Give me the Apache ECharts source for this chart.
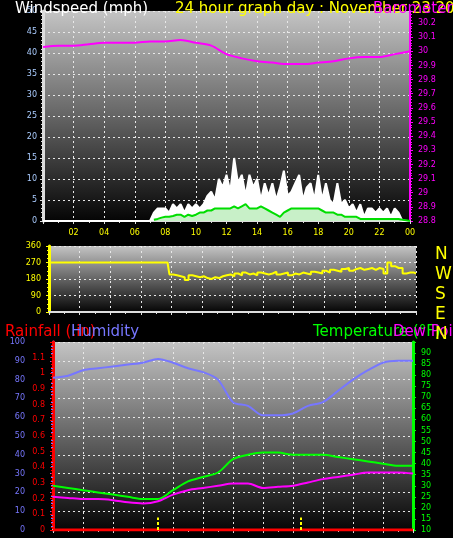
<!DOCTYPE html>
<html><head><meta charset="utf-8">
<script src="https://cdn.jsdelivr.net/npm/echarts@6/dist/echarts.min.js"></script>
<style>html,body{margin:0;padding:0;background:#000}#c{width:453px;height:538px}</style>
</head><body><div id="c"></div>
<script>
// quarter-hour series (97 points, 00:00 .. 24:00)
const gust = [0,0,0,0,0,0,0,0,0,0,0,0,0,0,0,0,0,0,0,0,0,0,0,0,0,0,0,0,0,2,3,3,
  3,2,4,3,4,2,4,3,4,3,4,6,7,5,10,8,11,7,15,9,11,6,11,8,10,5,9,6,9,5,8,12,
  6,7,9,11,5,8,9,5,11,5,9,5,4,9,4,5,3,4,2,4,1,3,3,2,3,2,3,1,3,2,0,0,0];
const avgWind = [null,null,null,null,null,null,null,null,null,null,null,null,null,null,null,null,null,null,null,null,null,null,null,null,null,null,null,null,null,0.3,0.5,0.8,
  1,1,1.2,1.5,1.5,1,1.5,1.2,1.5,2,2,2.5,2.5,3,3,3,3,3,3.5,3,3.5,4,3,3,3,3.5,3,2.5,2,1.5,1,2,
  2.5,3,3,3,3,3,3,3,3,2.5,2,2,2,1.5,1.5,1,1,1,1,0.5,0.5,0.5,0.5,0.5,0.5,0.5,0.5,0.5,0.5,0.5,0.3,0.2,0];
const windDir = [270,270,270,270,270,270,270,270,270,270,270,270,270,270,270,270,270,270,270,270,270,270,270,270,270,270,270,270,270,270,270,270,
  205,200,195,190,175,200,195,190,195,185,180,190,185,195,200,205,195,210,200,215,205,210,200,215,210,205,210,220,205,210,215,200,
  210,205,215,210,205,220,215,210,225,215,230,225,220,235,240,225,235,240,230,235,240,230,240,235,210,270,250,240,240,210,215,215,210];
// hourly series (25 points)
const baro = [30.03,30.04,30.04,30.05,30.06,30.06,30.06,30.07,30.07,30.08,30.06,30.04,29.98,29.95,29.93,29.92,29.91,29.91,29.92,29.93,29.95,29.96,29.96,29.98,30.0];
const humidity = [81,82,85,86,87,88,89,91,89,86,84,80,68,66,61,61,62,66,68,74,80,85,89,90,90];
const temperature = [30,29,28,27,26,25,24,24,28,32,34,36,42,44,45,45,44,44,44,43,42,41,40,39,39];
const dewPoint = [25,24.5,24,24,23.5,22.5,22,23,26,28,29,30,31,31,29,29.5,30,31.5,33,34,35,36,36,36,35.5];
const rain = [0,0,0,0,0,0,0,0,0,0,0,0,0,0,0,0,0,0,0,0,0,0,0,0,0];
const hourTicks = ['02','04','06','08','10','12','14','16','18','20','22','00'];

const q = a => a.map((v,i)=>[i/4,v]);
const h = a => a.map((v,i)=>[i,v]);
const bg = {type:'linear',x:0,y:0,x2:0,y2:1,colorStops:[{offset:0,color:'#c4c4c4'},{offset:1,color:'#050505'}]};
const dots = {show:true,lineStyle:{color:'#e8e8e8',type:[2,3],width:1}};
const fnt = 'DejaVu Sans';
function xAx(i, labels){
  return {type:'value',gridIndex:i,min:0,max:24,interval:2,
    axisLine:{show:true,lineStyle:{color:'#ddd',width:2}},
    axisTick:{show:true,length:3,lineStyle:{color:'#ddd'}},
    minorTick:{show:true,splitNumber:2,length:2,lineStyle:{color:'#ddd'}},
    splitLine:dots,
    axisLabel:labels?{show:true,color:'#ffff00',fontSize:8,fontFamily:fnt,
      formatter:v=>v===0?'':hourTicks[v/2-1]}:{show:false}};
}
function yAx(o){
  return Object.assign({type:'value',splitLine:{show:false},
    axisLine:{show:true,lineStyle:{width:3}},
    axisTick:{show:true,length:3,inside:false},
    minorTick:{show:true,splitNumber:5,length:2},
    axisLabel:{fontSize:8,fontFamily:fnt,margin:5}},o);
}
const chart = echarts.init(document.getElementById('c'));
chart.setOption({
  backgroundColor:'#000',animation:false,
  title:[
    {text:'Windspeed (mph)',left:10,top:-3,textStyle:{color:'#fff',fontSize:15,fontWeight:'normal',fontFamily:fnt}},
    {text:'24 hour graph day : November 23 2025',left:170,top:-3,textStyle:{color:'#ffff00',fontSize:15,fontWeight:'normal',fontFamily:fnt}},
    {text:'Barometer',left:368,top:-3,textStyle:{color:'#ff00ff',fontSize:15,fontWeight:'normal',fontFamily:fnt}},
    {text:'Rainfall (.in)',left:0,top:320,textStyle:{color:'#ff0000',fontSize:15,fontWeight:'normal',fontFamily:fnt}},
    {text:'Humidity',left:66,top:320,textStyle:{color:'#7777ff',fontSize:15,fontWeight:'normal',fontFamily:fnt}},
    {text:'Temperature (°F)',left:308,top:320,textStyle:{color:'#00ff00',fontSize:15,fontWeight:'normal',fontFamily:fnt}},
    {text:'Dew Point',left:388,top:320,textStyle:{color:'#ff00ff',fontSize:15,fontWeight:'normal',fontFamily:fnt}},
    {text:'N\nW\nS\nE\nN',left:430,top:240,textStyle:{color:'#ffff00',fontSize:17,lineHeight:20,fontWeight:'normal',fontFamily:fnt}}
  ],
  grid:[
    {left:43,right:43,top:11,height:210,show:true,backgroundColor:bg,borderWidth:0},
    {left:49,right:37,top:246,height:66,show:true,backgroundColor:bg,borderWidth:0},
    {left:53,right:40,top:342,height:188,show:true,backgroundColor:bg,borderWidth:0}
  ],
  xAxis:[xAx(0,true),xAx(1,false),xAx(2,false)],
  yAxis:[
    yAx({gridIndex:0,min:0,max:50,interval:5,position:'left',splitLine:dots,
      axisLine:{show:true,lineStyle:{color:'#ddd',width:3}},
      axisLabel:{fontSize:8,color:'#aaccff',fontFamily:fnt,margin:6}}),
    yAx({gridIndex:0,min:28.8,max:30.285,interval:0.1,position:'right',
      axisLine:{show:true,lineStyle:{color:'#ff00ff',width:2}},
      axisLabel:{fontSize:8,color:'#ff00ff',fontFamily:fnt,showMaxLabel:false,formatter:v=>String(+v.toFixed(1))}}),
    yAx({gridIndex:1,min:0,max:360,interval:90,position:'left',splitLine:dots,
      axisLine:{show:true,lineStyle:{color:'#ffff00',width:3}},minorTick:{show:true,splitNumber:4,length:2},
      axisLabel:{fontSize:8,color:'#ffff00',fontFamily:fnt}}),
    yAx({gridIndex:2,min:0,max:100,interval:10,position:'left',offset:20,splitLine:dots,
      axisLine:{show:true,lineStyle:{color:'#7777ff',width:3}},
      axisLabel:{fontSize:8,color:'#7777ff',fontFamily:fnt}}),
    yAx({gridIndex:2,min:0,max:1.2,interval:0.1,position:'left',
      axisLine:{show:true,lineStyle:{color:'#ff0000',width:3}},
      axisLabel:{fontSize:8,color:'#ff0000',fontFamily:fnt,showMaxLabel:false,formatter:v=>String(+v.toFixed(1))}}),
    yAx({gridIndex:2,min:10,max:95,interval:5,position:'right',
      axisLine:{show:true,lineStyle:{color:'#00ff00',width:3}},
      axisLabel:{fontSize:8,color:'#00ff00',fontFamily:fnt,showMaxLabel:false}})
  ],
  series:[
    {type:'line',xAxisIndex:0,yAxisIndex:0,data:q(gust),symbol:'none',
      lineStyle:{color:'#fff',width:2},areaStyle:{color:'#fff',opacity:1}},
    {type:'line',xAxisIndex:0,yAxisIndex:0,data:q(avgWind),symbol:'none',
      lineStyle:{color:'#00dd00',width:2},areaStyle:{color:'#c8f0c8',opacity:1}},
    {type:'line',xAxisIndex:0,yAxisIndex:1,data:h(baro),symbol:'none',smooth:0.3,
      lineStyle:{color:'#ff00ff',width:2}},
    {type:'line',xAxisIndex:1,yAxisIndex:2,data:q(windDir),step:'middle',symbol:'none',
      lineStyle:{color:'#ffff00',width:2}},
    {type:'line',xAxisIndex:2,yAxisIndex:3,data:h(humidity),symbol:'none',smooth:0.3,
      lineStyle:{color:'#7777ff',width:2}},
    {type:'line',xAxisIndex:2,yAxisIndex:5,data:h(temperature),symbol:'none',smooth:0.3,
      lineStyle:{color:'#00ff00',width:2}},
    {type:'line',xAxisIndex:2,yAxisIndex:5,data:h(dewPoint),symbol:'none',smooth:0.3,
      lineStyle:{color:'#ff00ff',width:2}},
    {type:'line',xAxisIndex:2,yAxisIndex:4,data:h(rain),symbol:'none',
      lineStyle:{color:'#ff0000',width:3},
      markLine:{silent:true,symbol:'none',label:{show:false},lineStyle:{color:'#ffff00',type:[3,2],width:2},
        data:[[{coord:[7,0]},{coord:[7,0.08]}],[{coord:[16.5,0]},{coord:[16.5,0.08]}]]}}
  ]
});
</script></body></html>
